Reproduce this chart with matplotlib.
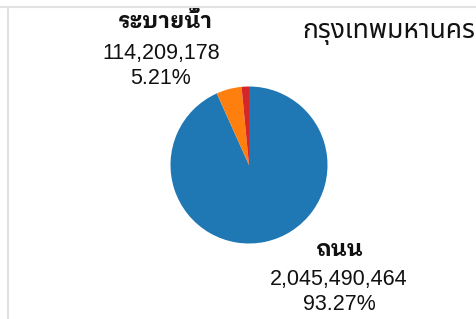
import matplotlib
matplotlib.use("Agg")
import matplotlib.pyplot as plt
from matplotlib.lines import Line2D

# data
categories = ['ถนน', 'ระบายน้ำ', 'อื่นๆ']
values = [2045490464, 114209178, 33300000]
colors = ['#1f77b4', '#ff7f0e', '#d62728']
title = 'กรุงเทพมหานคร'

W, H = 477, 319
fig = plt.figure(figsize=(W / 100, H / 100), dpi=100)
ax = fig.add_axes([0, 0, 1, 1])

cx, cy, r = 249, H - 165, 78.5
ax.pie(values, colors=colors, startangle=90, counterclock=False,
       center=(cx, cy), radius=r, wedgeprops=dict(linewidth=0))
ax.set_xlim(0, W)
ax.set_ylim(0, H)
ax.set_aspect('equal')
ax.axis('off')

# frame lines
fig.add_artist(Line2D([0, 1], [1 - 7 / H, 1 - 7 / H], color='#e2e2e2', lw=1.5))
fig.add_artist(Line2D([8 / W, 8 / W], [0, 1 - 7 / H], color='#e2e2e2', lw=1.5))

total = sum(values)
num_font = ['Liberation Sans', 'Noto Sans Thai Looped']
word_font = ['IBM Plex Sans Thai Looped', 'Noto Sans Thai Looped', 'Liberation Sans']
fs = 15.5

def label(i, x, y_word, y_num, y_pct, x_word=None):
    xw = x if x_word is None else x_word
    ax.text(xw, H - y_word, categories[i], ha='center', va='center',
            fontsize=16, family=word_font, weight='bold', color='#111111')
    ax.text(x, H - y_num, f'{values[i]:,}', ha='center', va='center',
            fontsize=fs, family=num_font, color='#111111')
    ax.text(x, H - y_pct, f'{values[i] / total * 100:.2f}%', ha='center', va='center',
            fontsize=fs, family=num_font, color='#111111')

label(1, 161, 22, 54, 79, x_word=165)
label(0, 339, 250, 280, 304, x_word=339)

ax.text(302, H - 31, title, ha='left', va='center', fontsize=19,
        family=['Noto Sans Thai', 'DejaVu Sans'], weight='medium', color='#111111')

fig.savefig('out.png', dpi=100)
